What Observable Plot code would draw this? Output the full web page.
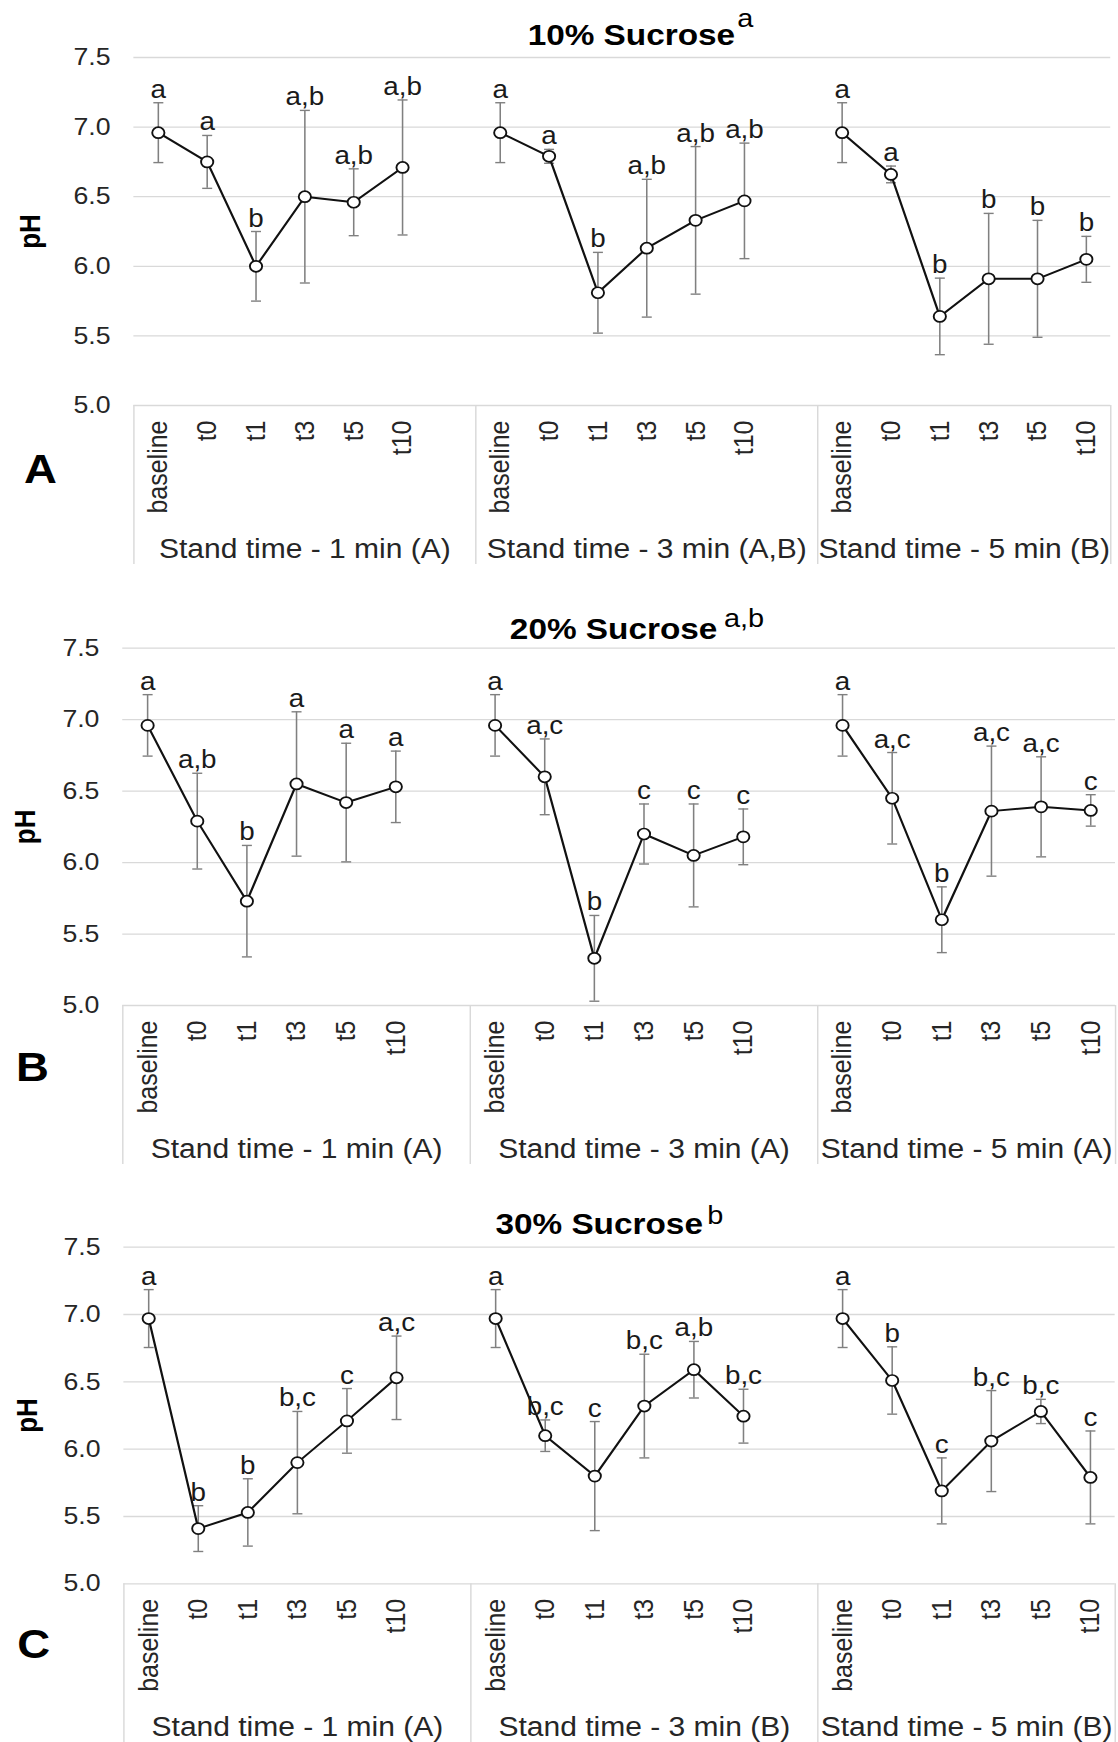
<!DOCTYPE html>
<html>
<head>
<meta charset="utf-8">
<script src="https://cdn.jsdelivr.net/npm/d3@7"></script>
<script src="https://cdn.jsdelivr.net/npm/@observablehq/plot@0.6"></script>
<style>
  html, body { margin: 0; padding: 0; background: #fff; }
  #chart { width: 1118px; height: 1742px; overflow: hidden; }
  #chart svg { display: block; }
</style>
</head>
<body>
<div id="chart"></div>
<script>
// ---------- data ----------
const times = ["baseline", "t0", "t1", "t3", "t5", "t10"];
const yTicks = [5.0, 5.5, 6.0, 6.5, 7.0, 7.5];

const groups10 = ["Stand time - 1 min (A)", "Stand time - 3 min (A,B)", "Stand time - 5 min (B)"];
const groups20 = ["Stand time - 1 min (A)", "Stand time - 3 min (A)", "Stand time - 5 min (A)"];
const groups30 = ["Stand time - 1 min (A)", "Stand time - 3 min (B)", "Stand time - 5 min (B)"];

const mean10 = [
  [6.96, 6.75, 6.00, 6.50, 6.46, 6.71],
  [6.96, 6.79, 5.81, 6.13, 6.33, 6.47],
  [6.96, 6.66, 5.64, 5.91, 5.91, 6.05]
];
const err10 = [
  [0.215, 0.19, 0.25, 0.62, 0.24, 0.485],
  [0.215, 0.05, 0.29, 0.495, 0.53, 0.415],
  [0.215, 0.06, 0.275, 0.47, 0.42, 0.165]
];
const sig10 = [
  ["a", "a", "b", "a,b", "a,b", "a,b"],
  ["a", "a", "b", "a,b", "a,b", "a,b"],
  ["a", "a", "b", "b", "b", "b"]
];

const mean20 = [
  [6.96, 6.29, 5.73, 6.55, 6.42, 6.53],
  [6.96, 6.60, 5.33, 6.20, 6.05, 6.18],
  [6.96, 6.45, 5.60, 6.36, 6.39, 6.365]
];
const err20 = [
  [0.215, 0.335, 0.39, 0.505, 0.415, 0.25],
  [0.215, 0.265, 0.30, 0.21, 0.36, 0.195],
  [0.215, 0.32, 0.23, 0.455, 0.35, 0.11]
];
const sig20 = [
  ["a", "a,b", "b", "a", "a", "a"],
  ["a", "a,c", "b", "c", "c", "c"],
  ["a", "a,c", "b", "a,c", "a,c", "c"]
];

const mean30 = [
  [6.97, 5.41, 5.53, 5.90, 6.21, 6.53],
  [6.97, 6.10, 5.80, 6.32, 6.59, 6.245],
  [6.97, 6.51, 5.69, 6.06, 6.28, 5.79]
];
const err30 = [
  [0.215, 0.17, 0.25, 0.38, 0.24, 0.31],
  [0.215, 0.117, 0.405, 0.385, 0.21, 0.20],
  [0.215, 0.25, 0.245, 0.375, 0.09, 0.345]
];
const sig30 = [
  ["a", "b", "b", "b,c", "c", "a,c"],
  ["a", "b,c", "c", "b,c", "a,b", "b,c"],
  ["a", "b", "c", "b,c", "b,c", "c"]
];

const titles = ["10% Sucrose", "20% Sucrose", "30% Sucrose"];
const titleSups = ["a", "a,b", "b"];
const panelLetters = ["A", "B", "C"];

// ---------- layout ----------
const W0 = 1006;              // internal drawing width
const WOUT = 1118;            // displayed width (reference text is horizontally stretched)
const FONT = "'Liberation Sans', Arial, Helvetica, sans-serif";
const SLOTS = 7;              // 6 time points + 1 empty slot per stand-time group

const layouts = [
  {height: 575, mt: 57,   mb: 170,   ml: 120, mr: 7,   titleX: 661, titleDy: -13,  supX: 663, supDy: -31, letterX: 21, letterDy: 77, phX: 27.5},
  {height: 610, mt: 72.7, mb: 180,   ml: 110, mr: 2.7, titleX: 645, titleDy: -9.7, supX: 651, supDy: -21, letterX: 14, letterDy: 75, phX: 22.5},
  {height: 557, mt: 61.7, mb: 158.7, ml: 111, mr: 3,   titleX: 632, titleDy: -13.7, supX: 636, supDy: -23.7, letterX: 15, letterDy: 74, phX: 24.7}
];

const panelData = [
  {groups: groups10, mean: mean10, err: err10, sig: sig10},
  {groups: groups20, mean: mean20, err: err20, sig: sig20},
  {groups: groups30, mean: mean30, err: err30, sig: sig30}
];

const capSymbol = {
  draw(ctx, size) {
    const r = Math.sqrt(size / Math.PI);
    ctx.moveTo(-r, 0);
    ctx.lineTo(r, 0);
  }
};

function makePanel(k) {
  const L = layouts[k];
  const P = panelData[k];
  const rows = [];
  P.groups.forEach((g, gi) => {
    times.forEach((t, ti) => {
      rows.push({
        group: g,
        slot: gi * SLOTS + ti,
        time: t,
        mean: P.mean[gi][ti],
        lo: P.mean[gi][ti] - P.err[gi][ti],
        hi: P.mean[gi][ti] + P.err[gi][ti],
        sig: P.sig[gi][ti]
      });
    });
  });
  const nSlots = (P.groups.length - 1) * SLOTS + times.length;
  const tickSlots = rows.map(d => d.slot);
  const groupStart = P.groups.map((g, gi) => gi * SLOTS - 0.5);
  const groupEnd = P.groups.map((g, gi) => gi < P.groups.length - 1 ? (gi + 1) * SLOTS - 0.5 : nSlots - 0.5);
  const dividers = [groupStart[0], ...groupEnd];
  const plotH = L.height - L.mt - L.mb;
  const boxDepth = 159;

  const svg = Plot.plot({
    width: W0,
    height: L.height,
    marginTop: L.mt,
    marginBottom: L.mb,
    marginLeft: L.ml,
    marginRight: L.mr,
    style: {fontFamily: FONT, fontSize: "24px", color: "#262626", background: "white"},
    x: {type: "linear", domain: [-0.5, nSlots - 0.5], axis: null},
    y: {domain: [5, 7.5], axis: null},
    marks: [
      Plot.gridY(yTicks, {stroke: "#d9d9d9", strokeOpacity: 1, strokeWidth: 1.3}),
      Plot.axisY(yTicks, {tickSize: 0, tickPadding: 21, tickFormat: d3.format(".1f"), fontSize: 24, fill: "#262626", label: null}),
      Plot.axisX(tickSlots, {tickSize: 0, tickPadding: 15, tickRotate: -90, tickFormat: s => times[s % SLOTS], fontSize: 25, fill: "#262626", label: null}),
      Plot.ruleX(dividers, {x: d => d, insetTop: plotH, insetBottom: -boxDepth, stroke: "#d9d9d9", strokeWidth: 1.3}),
      Plot.text(P.groups, {
        x: (d, i) => (groupStart[i] + groupEnd[i]) / 2,
        text: d => d,
        frameAnchor: "bottom", dy: 152, lineAnchor: "bottom",
        fontSize: 27, fill: "#262626"
      }),
      Plot.ruleX(rows, {x: "slot", y1: "lo", y2: "hi", stroke: "#808080", strokeWidth: 1.4}),
      Plot.dot(rows, {x: "slot", y: "hi", symbol: capSymbol, r: 4.5, stroke: "#808080", strokeWidth: 1.4, fill: "none"}),
      Plot.dot(rows, {x: "slot", y: "lo", symbol: capSymbol, r: 4.5, stroke: "#808080", strokeWidth: 1.4, fill: "none"}),
      Plot.line(rows, {x: "slot", y: "mean", z: "group", stroke: "#111", strokeWidth: 2}),
      Plot.dot(rows, {x: "slot", y: "mean", r: 5.5, fill: "white", stroke: "#111", strokeWidth: 1.7}),
      Plot.text(rows, {x: "slot", y: "hi", text: "sig", dy: -5, lineAnchor: "bottom", fontSize: 25, fill: "#1a1a1a"}),
      Plot.text([titles[k]], {
        frameAnchor: "top-left", dx: L.titleX - L.ml, dy: L.titleDy,
        textAnchor: "end", lineAnchor: "bottom", fontWeight: "bold", fontSize: 30, fill: "#000"
      }),
      Plot.text([titleSups[k]], {
        frameAnchor: "top-left", dx: L.supX - L.ml, dy: L.supDy,
        textAnchor: "start", lineAnchor: "bottom", fontSize: 26, fill: "#000"
      }),
      Plot.text([panelLetters[k]], {
        frameAnchor: "bottom-left", dx: L.letterX - L.ml, dy: L.letterDy,
        textAnchor: "start", lineAnchor: "bottom", fontWeight: "bold", fontSize: 41, fill: "#000"
      }),
      Plot.text(["pH"], {
        frameAnchor: "left", dx: L.phX - L.ml, rotate: -90,
        textAnchor: "middle", lineAnchor: "middle", fontWeight: "bold", fontSize: 26, fill: "#000"
      })
    ]
  });

  // stretch horizontally like the reference picture
  svg.setAttribute("viewBox", `0 0 ${W0} ${L.height}`);
  svg.setAttribute("preserveAspectRatio", "none");
  svg.setAttribute("width", WOUT);
  svg.setAttribute("height", L.height);
  svg.style.maxWidth = "none";
  svg.style.width = WOUT + "px";
  svg.style.height = L.height + "px";
  return svg;
}

const chart = document.getElementById("chart");
[0, 1, 2].forEach(k => chart.appendChild(makePanel(k)));
</script>
</body>
</html>
